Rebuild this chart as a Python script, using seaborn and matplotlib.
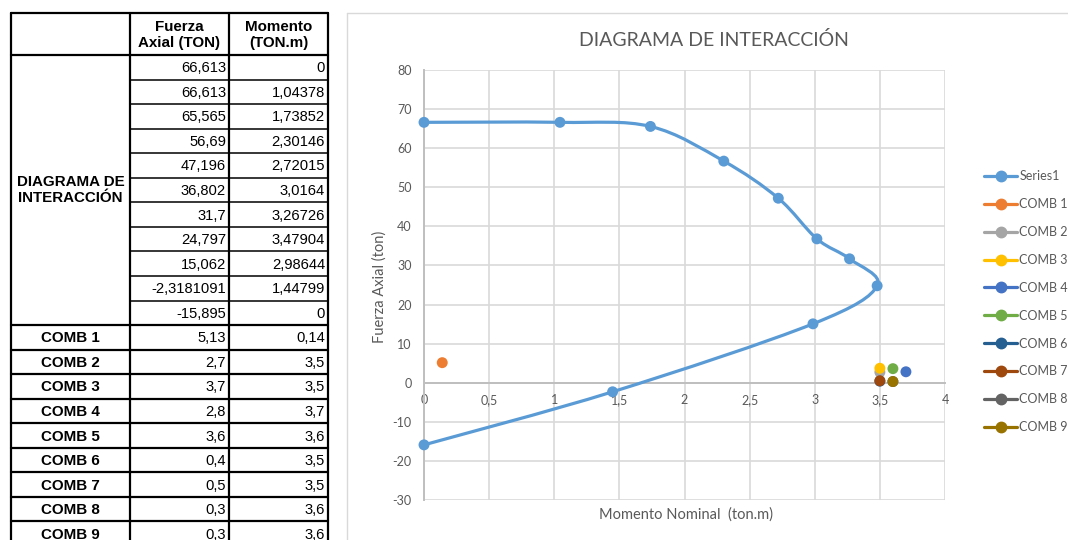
import numpy as np
import pandas as pd
import matplotlib
matplotlib.use("Agg")
import matplotlib.pyplot as plt
from matplotlib.path import Path
from matplotlib.patches import PathPatch
from matplotlib.lines import Line2D
from matplotlib.ticker import FuncFormatter, MultipleLocator
import seaborn as sns

# interaction diagram (table values)
fuerza = [66.613, 66.613, 65.565, 56.69, 47.196, 36.802, 31.7, 24.797, 15.062, -2.3181091, -15.895]
momento = [0, 1.04378, 1.73852, 2.30146, 2.72015, 3.0164, 3.26726, 3.47904, 2.98644, 1.44799, 0]

comb_names = ["COMB 1", "COMB 2", "COMB 3", "COMB 4", "COMB 5", "COMB 6", "COMB 7", "COMB 8", "COMB 9"]
comb_fuerza = [5.13, 2.7, 3.7, 2.8, 3.6, 0.4, 0.5, 0.3, 0.3]
comb_momento = [0.14, 3.5, 3.5, 3.7, 3.6, 3.5, 3.5, 3.6, 3.6]

series_color = "#5B9BD5"
comb_colors = ["#ED7D31", "#A5A5A5", "#FFC000", "#4472C4", "#70AD47",
               "#255E91", "#9E480E", "#636363", "#997300"]

sns.set_style("white")
plt.rcParams['font.family'] = ['Lato', 'DejaVu Sans']

W, H = 1068, 540
fig = plt.figure(figsize=(W / 100, H / 100), dpi=100)

# background layer in pixel coords for the table + chart frame
bg = fig.add_axes([0, 0, 1, 1])
bg.set_xlim(0, W)
bg.set_ylim(H, 0)
bg.axis("off")

def fmt(v):
    if v == int(v):
        return str(int(v))
    return repr(v).replace(".", ",")

tfont = dict(family="Liberation Sans", color="black")
num_size, bold_size = 10.6, 10.9
x0, x1, x2, x3 = 11, 130, 229, 328
top, hdr = 13, 55
pitch = 24.55
n_rows = len(fuerza) + len(comb_names)
bottom = hdr + n_rows * pitch

# header
bg.text((x1 + x2) / 2, (top + hdr) / 2 + 1, "Fuerza\nAxial (TON)", ha="center", va="center",
        fontweight="bold", fontsize=bold_size, linespacing=1.12, **tfont)
bg.text((x2 + x3) / 2, (top + hdr) / 2 + 1, "Momento\n(TON.m)", ha="center", va="center",
        fontweight="bold", fontsize=bold_size, linespacing=1.12, **tfont)

rows_f = fuerza + comb_fuerza
rows_m = momento + comb_momento
for i, (f, m) in enumerate(zip(rows_f, rows_m)):
    yc = hdr + (i + 0.5) * pitch
    bg.text(x2 - 3, yc + 1, fmt(f), ha="right", va="center", fontsize=num_size, **tfont)
    bg.text(x3 - 3, yc + 1, fmt(m), ha="right", va="center", fontsize=num_size, **tfont)
    if i >= len(fuerza):
        bg.text((x0 + x1) / 2, yc + 1, comb_names[i - len(fuerza)], ha="center", va="center",
                fontweight="bold", fontsize=bold_size, **tfont)

n_diag = len(fuerza)
bg.text((x0 + x1) / 2, hdr + n_diag * pitch / 2, "DIAGRAMA DE\nINTERACCIÓN", ha="center",
        va="center", fontweight="bold", fontsize=bold_size, linespacing=1.15, **tfont)

lw = 1.6
# outer + column lines
for x in (x0, x1, x2, x3):
    bg.plot([x, x], [top, bottom], color="black", lw=lw)
bg.plot([x0, x3], [top, top], color="black", lw=lw)
bg.plot([x0, x3], [hdr, hdr], color="black", lw=lw)
for i in range(1, n_rows + 1):
    y = hdr + i * pitch
    if i < n_diag:
        bg.plot([x1, x3], [y, y], color="black", lw=1.1)
    else:
        bg.plot([x0, x3], [y, y], color="black", lw=lw)

# chart area frame
bg.plot([347, 347], [13, H], color="#D9D9D9", lw=1)
bg.plot([347, W], [13, 13], color="#D9D9D9", lw=1)

# plot area
ax = fig.add_axes([424 / W, 1 - 500 / H, (945 - 424) / W, (500 - 70) / H])
ax.set_xlim(0, 4)
ax.set_ylim(-30, 80)
ax.xaxis.set_major_locator(MultipleLocator(0.5))
ax.yaxis.set_major_locator(MultipleLocator(10))
comma = FuncFormatter(lambda v, p: f"{v:g}".replace(".", ","))
ax.xaxis.set_major_formatter(comma)
ax.yaxis.set_major_formatter(comma)
ax.grid(True, color="#D9D9D9", lw=1.2)
ax.set_axisbelow(True)
for s in ("top", "right"):
    ax.spines[s].set_visible(False)
ax.spines["bottom"].set_position(("data", 0))
ax.spines["bottom"].set_color("#BFBFBF")
ax.spines["bottom"].set_linewidth(1.4)
ax.spines["left"].set_color("#BFBFBF")
ax.spines["left"].set_linewidth(1.4)
ax.tick_params(length=0, labelsize=9, labelcolor="#595959")
ax.tick_params(axis="y", pad=9)
ax.tick_params(axis="x", pad=8)

# smoothed line (Catmull-Rom as cubic Bezier, like Excel's smooth line)
pts = np.column_stack([momento, fuerza])
verts = [pts[0]]
codes = [Path.MOVETO]
n = len(pts)
for i in range(n - 1):
    p0 = pts[max(i - 1, 0)]
    p1 = pts[i]
    p2 = pts[i + 1]
    p3 = pts[min(i + 2, n - 1)]
    c1 = p1 + (p2 - p0) / 6
    c2 = p2 - (p3 - p1) / 6
    verts += [c1, c2, p2]
    codes += [Path.CURVE4] * 3
ax.add_patch(PathPatch(Path(verts, codes), facecolor="none", edgecolor=series_color,
                       lw=2.3, capstyle="round", zorder=3, clip_on=False))

diag = pd.DataFrame({"Momento": momento, "Fuerza": fuerza})
sns.scatterplot(data=diag, x="Momento", y="Fuerza", color=series_color, s=62,
                edgecolor="none", ax=ax, zorder=4, clip_on=False)

combs = pd.DataFrame({"name": comb_names, "Momento": comb_momento, "Fuerza": comb_fuerza})
sns.scatterplot(data=combs, x="Momento", y="Fuerza", hue="name", palette=comb_colors,
                s=62, edgecolor="none", legend=False, ax=ax, zorder=5, clip_on=False)

ax.set_xlabel("")
ax.set_ylabel("")
fig.text(686 / W, 1 - 515 / H, "Momento Nominal  (ton.m)", ha="center", va="center",
         fontsize=10.5, color="#595959")
fig.text(380 / W, 1 - 287 / H, "Fuerza Axial (ton)", ha="center", va="center",
         rotation=90, fontsize=10.5, color="#595959")
fig.text(714 / W, 1 - 40 / H, "DIAGRAMA DE INTERACCIÓN", ha="center", va="center",
         fontsize=14, color="#595959")

handles = [Line2D([], [], color=series_color, lw=2.3, marker="o", markersize=7.5)]
handles += [Line2D([], [], color=c, lw=2.3, marker="o", markersize=7.5) for c in comb_colors]
labels = ["Series1"] + comb_names
fig.legend(handles, labels, loc="upper left", bbox_to_anchor=(978 / W, 1 - 164 / H),
           frameon=False, fontsize=9, handlelength=2.6, handletextpad=0.2,
           labelspacing=1.27, borderpad=0, labelcolor="#595959")

fig.savefig("out.png", dpi=100)
